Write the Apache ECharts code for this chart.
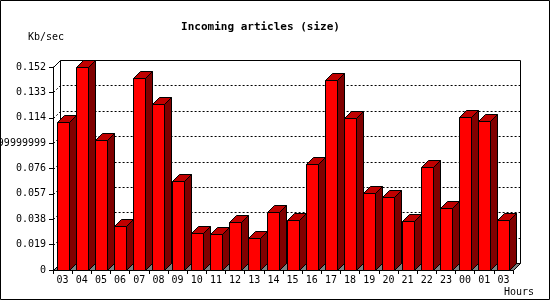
<!DOCTYPE html>
<html>
<head>
<meta charset="utf-8">
<script src="https://cdn.jsdelivr.net/npm/echarts@6/dist/echarts.min.js"></script>
<style>
html,body{margin:0;padding:0;background:#fff;}
#chart{width:550px;height:300px;}
</style>
</head>
<body>
<div id="chart"></div>
<script>
const hours = ['03','04','05','06','07','08','09','10','11','12','13','14','15','16','17','18','19','20','21','22','23','00','01','03'];
const kbPerSec = [0.1106,0.1518,0.0971,0.0327,0.1435,0.1241,0.0664,0.0275,0.0267,0.0357,0.0237,0.0432,0.0372,0.0791,0.1420,0.1136,0.0574,0.0544,0.0365,0.0769,0.0462,0.1143,0.1113,0.0372];
const yTickValues = [0,0.019,0.038,0.057,0.076,0.095,0.114,0.133,0.152];
const yTickLabels = ['0','0.019','0.038','0.057','0.076','0.09499999999999999','0.114','0.133','0.152'];
const titleText = 'Incoming articles (size)';
const yName = 'Kb/sec';
const xName = 'Hours';

const FONT = '"DejaVu Sans Mono", monospace';
const DEPTH = 7;
const FACE_W = 12;

const chart = echarts.init(document.getElementById('chart'), null, {renderer: 'canvas'});

function px(v){ return Math.round(v) + 0.5; }

const option = {
  backgroundColor: '#ffffff',
  animation: false,
  grid: {left: 53, right: 37, top: 67, bottom: 30, containLabel: false, outerBoundsMode: 'none'},
  xAxis: {
    type: 'category',
    data: hours,
    axisLine: {show: true, lineStyle: {color: '#000', width: 1}},
    axisTick: {show: true, length: 4, lineStyle: {color: '#000'}},
    axisLabel: {color: '#000', fontFamily: FONT, fontSize: 10, margin: 5, interval: 0},
    splitLine: {show: false}
  },
  yAxis: {
    type: 'value',
    min: 0, max: 0.152, interval: 0.019,
    axisLine: {show: true, lineStyle: {color: '#000', width: 1}},
    axisTick: {show: true, length: 4, lineStyle: {color: '#000'}},
    axisLabel: {
      color: '#000', fontFamily: FONT, fontSize: 10, margin: 7,
      formatter: function (v) {
        const idx = Math.round(v / 0.019);
        return yTickLabels[idx] !== undefined ? yTickLabels[idx] : String(v);
      }
    },
    splitLine: {show: false}
  },
  graphic: [
    {type: 'rect', shape: {x: 0.5, y: 0.5, width: 549, height: 299}, style: {fill: null, stroke: '#000', lineWidth: 1}, z: -10, silent: true},
    {type: 'text', x: 260.5, y: 27, style: {text: titleText, font: 'bold 11px ' + FONT, fill: '#000', align: 'center', verticalAlign: 'middle'}},
    {type: 'text', x: 28, y: 37, style: {text: yName, font: '10px ' + FONT, fill: '#000', align: 'left', verticalAlign: 'middle'}},
    {type: 'text', x: 504, y: 292, style: {text: xName, font: '10px ' + FONT, fill: '#000', align: 'left', verticalAlign: 'middle'}}
  ],
  series: [
    {
      type: 'custom',
      name: 'frame',
      z: 1,
      silent: true,
      data: [[0, 0]],
      renderItem: function (params, api) {
        const cs = params.coordSys;
        const x0 = px(cs.x), x1 = px(cs.x + cs.width);
        const yb = px(cs.y + cs.height), yt = px(cs.y);
        const d = DEPTH;
        const children = [];
        children.push({type: 'polygon', shape: {points: [[x0, yb], [x1, yb], [x1 + d, yb - d], [x0 + d, yb - d]]},
          style: {fill: '#808080', stroke: '#000', lineWidth: 1}});
        children.push({type: 'polyline', shape: {points: [[x0, yt], [x0 + d, yt - d], [x1 + d, yt - d], [x1 + d, yb - d]]},
          style: {fill: null, stroke: '#000', lineWidth: 1}});
        children.push({type: 'line', shape: {x1: x0 + d, y1: yt - d, x2: x0 + d, y2: yb - d},
          style: {stroke: '#000', lineWidth: 1}});
        for (let k = 1; k < yTickValues.length - 1; k++) {
          const y = px(api.coord([0, yTickValues[k]])[1]);
          children.push({type: 'polyline', shape: {points: [[x0, y], [x0 + d, y - d], [x1 + d, y - d]]},
            style: {fill: null, stroke: '#000', lineWidth: 1, lineDash: [2, 2]}});
        }
        return {type: 'group', children: children};
      }
    },
    {
      type: 'custom',
      name: 'Kb/sec',
      z: 3,
      data: kbPerSec.map(function (v, i) { return [i, v]; }),
      renderItem: function (params, api) {
        const i = api.value(0), v = api.value(1);
        const top = api.coord([i, v]);
        const base = api.coord([i, 0]);
        const d = DEPTH;
        const xl = px(top[0] - FACE_W / 2), xr = xl + FACE_W;
        const yt = px(top[1]), yb = px(base[1]);
        return {
          type: 'group',
          children: [
            {type: 'polygon', shape: {points: [[xr, yt], [xr + d, yt - d], [xr + d, yb - d], [xr, yb]]},
              style: {fill: '#800000', stroke: '#000', lineWidth: 1}},
            {type: 'polygon', shape: {points: [[xl, yt], [xr, yt], [xr + d, yt - d], [xl + d, yt - d]]},
              style: {fill: '#c00000', stroke: '#000', lineWidth: 1}},
            {type: 'rect', shape: {x: xl, y: yt, width: FACE_W, height: yb - yt},
              style: {fill: '#ff0000', stroke: '#000', lineWidth: 1}}
          ]
        };
      }
    }
  ]
};
chart.setOption(option);
</script>
</body>
</html>
